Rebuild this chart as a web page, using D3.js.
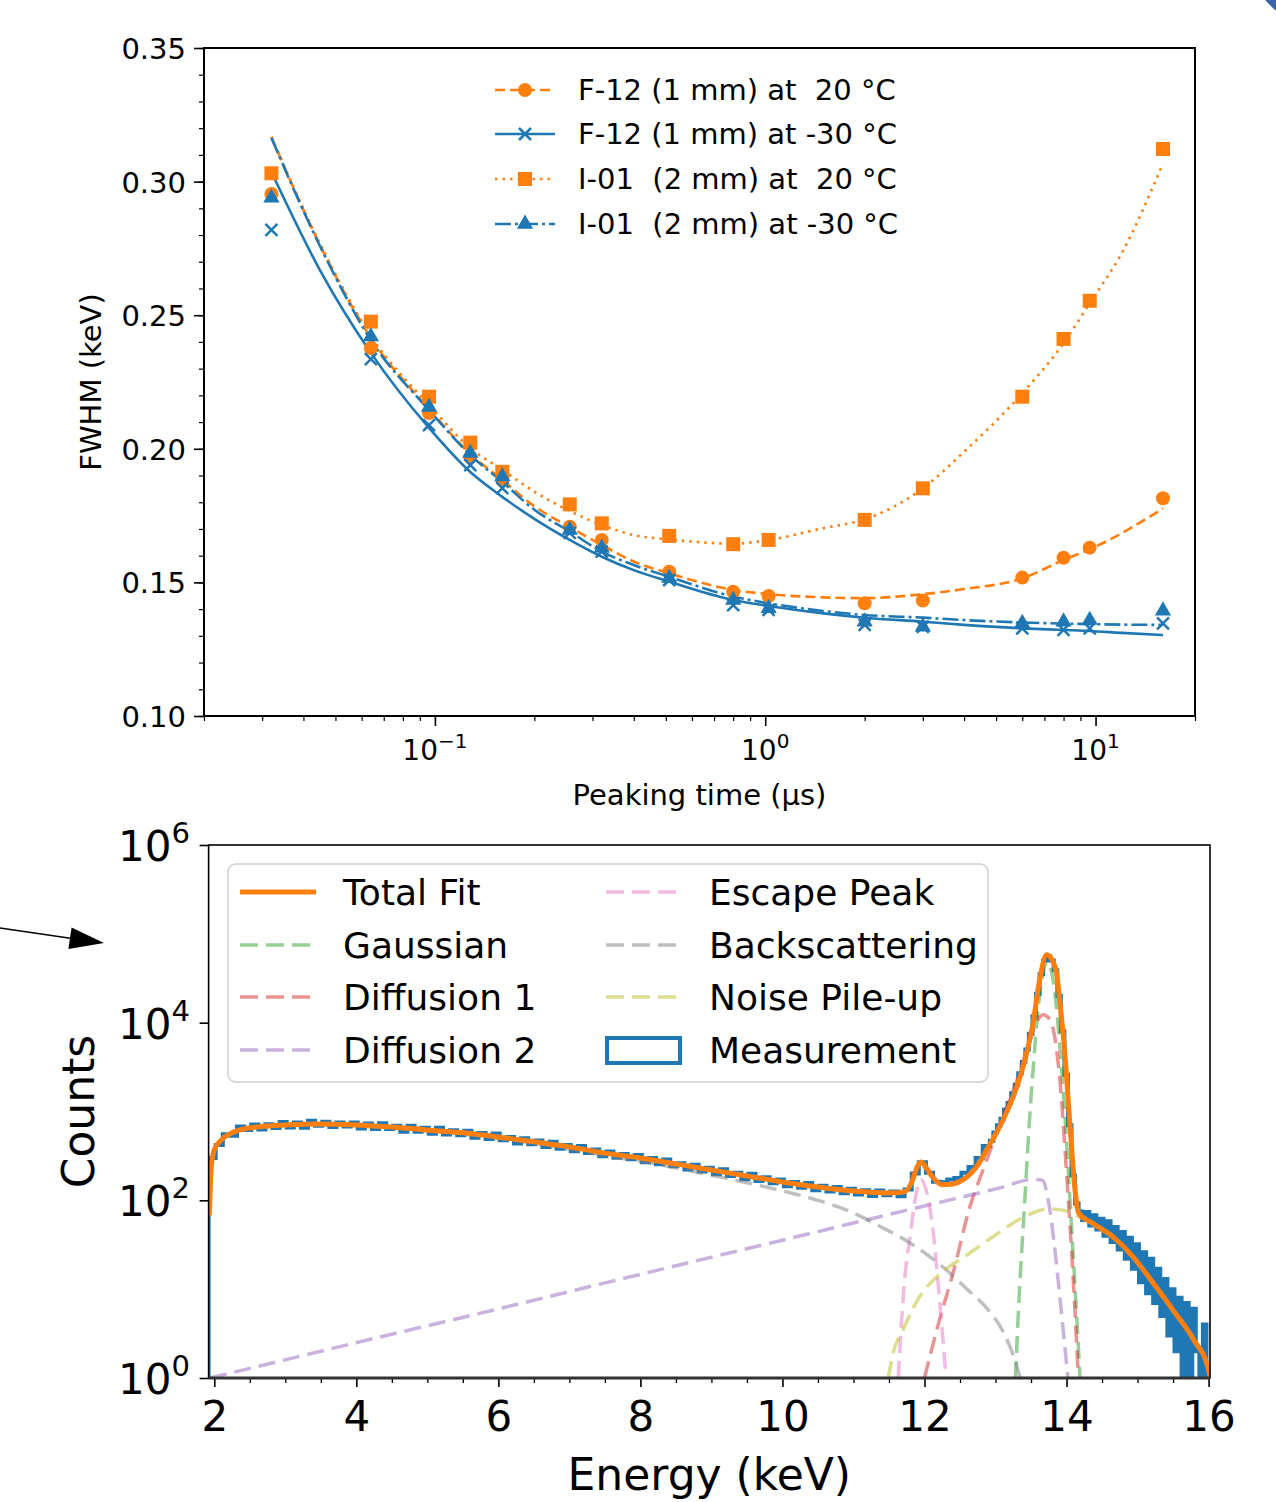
<!DOCTYPE html>
<html>
<head>
<meta charset="utf-8">
<script src="https://cdn.jsdelivr.net/npm/d3@7"></script>
<style>
body { margin:0; background:#fff; }
svg text { font-family: "DejaVu Sans", sans-serif; white-space: pre; fill:#000; }
</style>
</head>
<body>
<svg id="fig" width="1276" height="1502"></svg>
<script>

// ---------------- DATA : top panel (FWHM vs peaking time) ----------------
var peakingTimes = [0.032, 0.064, 0.096, 0.128, 0.16, 0.256, 0.32, 0.512, 0.8, 1.024, 2, 3, 6, 8, 9.6, 16];
var fwhmF12Warm = [0.2954, 0.2377, 0.2134, 0.1969, 0.1883, 0.1708, 0.1659, 0.1540, 0.1465, 0.1449, 0.1422, 0.1432, 0.1518, 0.1592, 0.1630, 0.1815];
var fwhmF12Cold = [0.2819, 0.2336, 0.2089, 0.1939, 0.1853, 0.1685, 0.1615, 0.1509, 0.1415, 0.1397, 0.1341, 0.1334, 0.1328, 0.1322, 0.1328, 0.1347];
var fwhmI01Warm = [0.3031, 0.2476, 0.2195, 0.2023, 0.1914, 0.1792, 0.1721, 0.1674, 0.1643, 0.1659, 0.1734, 0.1852, 0.2195, 0.2411, 0.2554, 0.3122];
var fwhmI01Cold = [0.2939, 0.2420, 0.2156, 0.1984, 0.1896, 0.1696, 0.1629, 0.1516, 0.1434, 0.1403, 0.1353, 0.1334, 0.1347, 0.1353, 0.1359, 0.1394];

// fit curves
var fitTimes   = [0.032, 0.045, 0.064, 0.096, 0.128, 0.16, 0.2, 0.256, 0.32, 0.4, 0.512, 0.8, 1.024, 1.5, 2, 3, 4, 6, 8, 9.6, 12, 16];
var fitF12Warm = [0.3167, 0.2760, 0.2415, 0.2149, 0.1981, 0.1883, 0.1785, 0.1707, 0.1640, 0.1578, 0.1534, 0.1472, 0.1456, 0.1444, 0.1441, 0.1456, 0.1475, 0.1515, 0.1584, 0.1624, 0.1684, 0.1777];
var fitF12Cold = [0.3036, 0.2666, 0.2359, 0.2078, 0.1913, 0.1820, 0.1738, 0.1659, 0.1596, 0.1546, 0.1503, 0.1434, 0.1412, 0.1384, 0.1368, 0.1353, 0.1341, 0.1328, 0.1322, 0.1318, 0.1311, 0.1303];
var fitI01Warm = [0.3167, 0.2765, 0.2422, 0.2164, 0.2003, 0.1921, 0.1840, 0.1767, 0.1715, 0.1677, 0.1661, 0.1645, 0.1659, 0.1703, 0.1736, 0.1852, 0.1989, 0.2208, 0.2395, 0.2545, 0.2732, 0.3068];
var fitI01Cold = [0.3163, 0.2756, 0.2407, 0.2145, 0.1977, 0.1876, 0.1772, 0.1690, 0.1615, 0.1565, 0.1521, 0.1447, 0.1422, 0.1393, 0.1378, 0.1368, 0.1359, 0.1350, 0.1346, 0.1344, 0.1342, 0.1341];

var topSeriesLabels = ["F-12 (1 mm) at  20 °C", "F-12 (1 mm) at -30 °C", "I-01  (2 mm) at  20 °C", "I-01  (2 mm) at -30 °C"];
var topYTicks = [0.10, 0.15, 0.20, 0.25, 0.30, 0.35];
var topXTicks = [0.1, 1, 10];
var topXTickExps = ["\u22121", "0", "1"];

// ---------------- DATA : bottom panel (spectrum) ----------------
var energyTicks = [2, 4, 6, 8, 10, 12, 14, 16];
var countTicks = [1, 1e2, 1e4, 1e6];
var countTickExps = ["0", "2", "4", "6"];

// measurement histogram: coarse bins below 12.92 keV, finer bins above
var measLowStart = 1.92, measLowWidth = 0.1;
var measCountsLow = [
	300, 420, 556, 534, 676, 618, 712, 626, 718, 651,
	761, 660, 751, 655, 787, 689, 769, 667, 751, 677,
	754, 644, 734, 637, 738, 637, 693, 592, 691, 592,
	657, 563, 657, 552, 614, 541, 608, 507, 572, 491,
	564, 475, 517, 437, 501, 429, 472, 399, 456, 382,
	420, 357, 410, 342, 373, 313, 355, 301, 332, 290,
	324, 268, 299, 255, 289, 242, 261, 223, 251, 211,
	233, 196, 224, 188, 204, 173, 199, 165, 182, 156,
	172, 144, 161, 139, 157, 130, 146, 126, 141, 120,
	135, 116, 130, 112, 129, 114, 126, 111, 132, 200,
	268, 205, 162, 160, 172, 178, 205, 238, 300, 410
];
var measHighStart = 12.92, measHighWidth = 0.05;
var measCountsHigh = [
	470, 580, 700, 830, 1050, 1250, 1600, 2000, 2700, 3600,
	5000, 7500, 11800, 21000, 35000, 50000, 56000, 50000, 39000, 20000,
	8000, 2600, 700, 190, 92, 75, 60, 74, 52, 68,
	47, 62, 40, 58, 34, 50, 28, 44, 22, 38,
	17, 32, 12, 26, 9, 22, 7, 17, 5, 13,
	3, 10, 2, 8, 0, 7, 1, 6, 2, 0,
	4, 0
];

var totalFitPts = [[1.93, 68], [1.96, 250], [2.0, 370], [2.1, 480], [2.25, 575], [2.5, 653], [3.0, 705], [3.5, 725], [4.0, 705],
	[4.5, 670], [5.0, 620], [5.5, 575], [6.0, 517], [6.5, 456], [7.0, 400], [7.5, 340], [8.0, 300], [8.5, 257], [9.0, 220],
	[9.5, 188], [10.0, 161], [10.5, 141], [11.0, 127], [11.5, 121], [11.72, 125], [11.82, 160], [11.9, 240], [11.95, 270],
	[12.02, 235], [12.12, 180], [12.25, 150], [12.4, 153], [12.55, 172], [12.75, 250], [12.9, 400], [13.06, 680], [13.2, 1180],
	[13.3, 1900], [13.42, 4000], [13.53, 10000], [13.62, 30000], [13.72, 58000], [13.8, 50000], [13.86, 36000], [13.91, 16000],
	[13.96, 6400], [14.05, 680], [14.12, 130], [14.17, 72], [14.37, 55], [14.65, 39], [14.94, 23], [15.22, 11.7], [15.5, 5.8],
	[15.79, 2.7], [16.0, 1.23], [16.02, 1.0]];
var gaussianPts = [[13.28, 1], [13.33, 7.6], [13.40, 69], [13.47, 620], [13.55, 4900], [13.63, 23400], [13.73, 48000],
	[13.83, 23400], [13.91, 4900], [13.99, 620], [14.06, 69], [14.13, 7.6], [14.19, 1]];
var diffusion1Pts = [[12.0, 1], [12.2, 4.2], [12.4, 15], [12.64, 85], [12.85, 250], [13.06, 705], [13.28, 2000], [13.44, 4900],
	[13.58, 10200], [13.67, 12300], [13.77, 10700], [13.91, 2100], [14.0, 204], [14.09, 15], [14.16, 1.3]];
var diffusion2Pts = [[1.94, 1], [4, 2.5], [6, 6.0], [8, 14.7], [10, 35.6], [12, 86.5], [13, 134], [13.55, 172], [13.66, 168],
	[13.75, 93], [13.82, 36], [13.92, 6.3], [14.02, 1]];
var escapePts = [[11.63, 1], [11.72, 12.7], [11.8, 41], [11.88, 115], [11.95, 170], [12.03, 124], [12.12, 46], [12.2, 9.8], [12.3, 1.08]];
var backscatterPts = [[1.93, 66], [1.96, 245], [2.0, 362], [2.1, 470], [2.25, 565], [2.5, 642], [3.0, 692], [3.5, 710], [4.0, 690],
	[4.5, 654], [5.0, 603], [5.5, 557], [6.0, 498], [6.5, 436], [7.0, 378], [7.5, 318], [8.0, 276], [8.5, 232], [9.0, 192],
	[9.5, 158], [10.0, 128], [10.5, 100], [10.95, 75], [11.35, 52], [11.8, 33], [12.25, 18], [12.6, 10], [12.9, 5.8],
	[13.1, 3.4], [13.25, 1.8], [13.35, 1.0]];
var pileupPts = [[11.49, 1], [11.55, 1.8], [11.7, 3.5], [11.9, 7.5], [12.2, 14.4], [12.6, 24.3], [13.0, 40.7], [13.4, 65],
	[13.75, 80], [14.0, 76], [14.22, 62]];

var botLegendLabels = ["Total Fit", "Gaussian", "Diffusion 1", "Diffusion 2", "Escape Peak", "Backscattering", "Noise Pile-up", "Measurement"];


var svg = d3.select("#fig");
var orange = "#ff7f0e", blue = "#1f77b4";

// corner decoration and arrow
svg.append("circle").attr("cx", 1330).attr("cy", -55).attr("r", 85).attr("fill", "#3866ae");
svg.append("line").attr("x1", 0).attr("y1", 928).attr("x2", 72).attr("y2", 938.5)
	.attr("stroke", "#000").attr("stroke-width", 1.5);
svg.append("path").attr("d", "M104,943 L68.4,949 L71.6,927.5 Z").attr("fill", "#000");


// ======================= TOP PANEL =======================
var tp = { left: 204, right: 1195, top: 48, bottom: 716 };
var xTop = d3.scaleLog().domain([0.02, 20]).range([tp.left, tp.right]);
var yTop = d3.scaleLinear().domain([0.10, 0.35]).range([tp.bottom, tp.top]);

function styleAxis(g, w) {
	g.select(".domain").remove();
	g.selectAll(".tick line").attr("stroke", "#000").attr("stroke-width", w);
}

// y ticks
var yMinor = d3.range(10, 36).map(function(d) { return d / 100; });
svg.append("g").attr("transform", "translate(" + tp.left + ",0)")
	.call(d3.axisLeft(yTop).tickValues(yMinor).tickSize(5).tickFormat(""))
	.call(styleAxis, 1.2);
var gyTop = svg.append("g").attr("transform", "translate(" + tp.left + ",0)")
	.call(d3.axisLeft(yTop).tickValues(topYTicks).tickSize(10).tickPadding(8).tickFormat(d3.format(".2f")))
	.call(styleAxis, 1.6);
gyTop.selectAll(".tick text").attr("font-size", 29).attr("font-family", "DejaVu Sans").attr("dy", "0.36em");

// x ticks (log)
var xMinor = [];
[0.01, 0.1, 1, 10].forEach(function(dec) {
	for (var k = 2; k <= 9; k++) {
		var v = k * dec;
		if (v >= 0.02 && v <= 20) xMinor.push(v);
	}
});
svg.append("g").attr("transform", "translate(0," + tp.bottom + ")")
	.call(d3.axisBottom(xTop).tickValues(xMinor).tickSize(5).tickFormat(""))
	.call(styleAxis, 1.2);
svg.append("g").attr("transform", "translate(0," + tp.bottom + ")")
	.call(d3.axisBottom(xTop).tickValues(topXTicks).tickSize(10).tickFormat(""))
	.call(styleAxis, 1.6);

topXTicks.forEach(function(v, i) {
	var t = svg.append("text").attr("x", xTop(v)).attr("y", 760).attr("text-anchor", "middle");
	t.append("tspan").text("10").attr("font-size", 28);
	t.append("tspan").text(topXTickExps[i]).attr("font-size", 20).attr("dy", -12);
});

// frame
svg.append("rect").attr("x", tp.left).attr("y", tp.top)
	.attr("width", tp.right - tp.left).attr("height", tp.bottom - tp.top)
	.attr("fill", "none").attr("stroke", "#000").attr("stroke-width", 2);

// axis titles
svg.append("text").attr("x", (tp.left + tp.right) / 2).attr("y", 805)
	.attr("text-anchor", "middle").attr("font-size", 29).text("Peaking time (\u03bcs)");
svg.append("text").attr("transform", "translate(101," + ((tp.top + tp.bottom) / 2) + ") rotate(-90)")
	.attr("text-anchor", "middle").attr("font-size", 29).text("FWHM (keV)");

// series definitions
var topSeries = [
	{ label: topSeriesLabels[0], vals: fwhmF12Warm, fit: fitF12Warm, color: orange, dash: "10,5", marker: "circle" },
	{ label: topSeriesLabels[1], vals: fwhmF12Cold, fit: fitF12Cold, color: blue, dash: null, marker: "x" },
	{ label: topSeriesLabels[2], vals: fwhmI01Warm, fit: fitI01Warm, color: orange, dash: "2.5,5", marker: "square" },
	{ label: topSeriesLabels[3], vals: fwhmI01Cold, fit: fitI01Cold, color: blue, dash: "16,4,3,4", marker: "triangle" }
];

function drawMarker(g, type, x, y, color) {
	if (type === "circle") {
		g.append("circle").attr("cx", x).attr("cy", y).attr("r", 7).attr("fill", color);
	} else if (type === "square") {
		g.append("rect").attr("x", x - 7).attr("y", y - 7).attr("width", 14).attr("height", 14).attr("fill", color);
	} else if (type === "triangle") {
		g.append("path").attr("d", d3.symbol(d3.symbolTriangle).size(115)())
			.attr("transform", "translate(" + x + "," + y + ")").attr("fill", color);
	} else {
		g.append("path").attr("d", "M-6,-6L6,6M-6,6L6,-6")
			.attr("transform", "translate(" + x + "," + y + ")")
			.attr("stroke", color).attr("stroke-width", 2.5).attr("fill", "none");
	}
}

var fitLine = d3.line()
	.x(function(d) { return xTop(d[0]); })
	.y(function(d) { return yTop(d[1]); })
	.curve(d3.curveMonotoneX);

var gTopPlot = svg.append("g");
topSeries.forEach(function(s) {
	gTopPlot.append("path")
		.datum(fitTimes.map(function(t, i) { return [t, s.fit[i]]; }))
		.attr("d", fitLine)
		.attr("fill", "none").attr("stroke", s.color).attr("stroke-width", 2.6)
		.attr("stroke-dasharray", s.dash);
});
topSeries.forEach(function(s) {
	peakingTimes.forEach(function(t, i) {
		drawMarker(gTopPlot, s.marker, xTop(t), yTop(s.vals[i]), s.color);
	});
});

// top legend
var legTopY = [90, 134, 179, 224];
topSeries.forEach(function(s, i) {
	var y = legTopY[i];
	svg.append("line").attr("x1", 495).attr("x2", 555).attr("y1", y).attr("y2", y)
		.attr("stroke", s.color).attr("stroke-width", 2.6).attr("stroke-dasharray", s.dash);
	drawMarker(svg, s.marker, 525, y, s.color);
	svg.append("text").attr("x", 578).attr("y", y + 10).attr("font-size", 29).text(s.label);
});


// ======================= BOTTOM PANEL =======================
var bp = { left: 208.6, right: 1210, top: 845, bottom: 1378 };
var xBot = d3.scaleLinear().domain([1.92, 16.02]).range([bp.left, bp.right]);
var yBot = d3.scaleLog().domain([1, 1e6]).range([bp.bottom, bp.top]).clamp(true);

svg.append("clipPath").attr("id", "botclip")
	.append("rect").attr("x", bp.left).attr("y", bp.top)
	.attr("width", bp.right - bp.left).attr("height", bp.bottom - bp.top);

var gBot = svg.append("g").attr("clip-path", "url(#botclip)");

// measurement histogram (step outline)
var measPts = [[measLowStart, 0.5]];
measCountsLow.forEach(function(c, i) {
	measPts.push([measLowStart + i * measLowWidth, Math.max(c, 0.5)]);
});
measCountsHigh.forEach(function(c, i) {
	measPts.push([measHighStart + i * measHighWidth, Math.max(c, 0.5)]);
});
measPts.push([measHighStart + measCountsHigh.length * measHighWidth, 0.5]);

gBot.append("path").datum(measPts)
	.attr("d", d3.line().x(function(d) { return xBot(d[0]); }).y(function(d) { return yBot(d[1]); }).curve(d3.curveStepAfter))
	.attr("fill", "none").attr("stroke", blue).attr("stroke-width", 4);

var specLine = d3.line()
	.x(function(d) { return xBot(d[0]); })
	.y(function(d) { return yBot(d[1]); })
	.curve(d3.curveMonotoneX);

var components = [
	{ pts: gaussianPts, color: "#2ca02c" },
	{ pts: diffusion1Pts, color: "#d62728" },
	{ pts: diffusion2Pts, color: "#9467bd" },
	{ pts: escapePts, color: "#e377c2" },
	{ pts: backscatterPts, color: "#7f7f7f" },
	{ pts: pileupPts, color: "#bcbd22" }
];
components.forEach(function(c) {
	gBot.append("path").datum(c.pts).attr("d", specLine)
		.attr("fill", "none").attr("stroke", c.color).attr("stroke-opacity", 0.5)
		.attr("stroke-width", 3.5).attr("stroke-dasharray", "17,8");
});
gBot.append("path").datum(totalFitPts).attr("d", specLine)
	.attr("fill", "none").attr("stroke", orange).attr("stroke-width", 5).attr("stroke-linejoin", "round");

// axes
var eMinor = d3.range(2.5, 16, 0.5).filter(function(v) { return v % 2 !== 0; });
svg.append("g").attr("transform", "translate(0," + bp.bottom + ")")
	.call(d3.axisBottom(xBot).tickValues(eMinor).tickSize(5).tickFormat(""))
	.call(styleAxis, 1.3);
var gxBot = svg.append("g").attr("transform", "translate(0," + bp.bottom + ")")
	.call(d3.axisBottom(xBot).tickValues(energyTicks).tickSize(9).tickPadding(14).tickFormat(d3.format("d")))
	.call(styleAxis, 1.6);
gxBot.selectAll(".tick text").attr("font-size", 42).attr("font-family", "DejaVu Sans").attr("dy", "0.71em");

svg.append("g").attr("transform", "translate(" + bp.left + ",0)")
	.call(d3.axisLeft(yBot).tickValues(countTicks).tickSize(9).tickFormat(""))
	.call(styleAxis, 1.6);
countTicks.forEach(function(v, i) {
	var t = svg.append("text").attr("x", 190).attr("y", yBot(v) + 16).attr("text-anchor", "end");
	t.append("tspan").text("10").attr("font-size", 42);
	t.append("tspan").text(countTickExps[i]).attr("font-size", 29).attr("dy", -18);
});

svg.append("rect").attr("x", bp.left).attr("y", bp.top)
	.attr("width", bp.right - bp.left).attr("height", bp.bottom - bp.top)
	.attr("fill", "none").attr("stroke", "#000").attr("stroke-width", 1.6);
svg.append("line").attr("x1", bp.left).attr("x2", bp.right).attr("y1", bp.bottom).attr("y2", bp.bottom)
	.attr("stroke", "#333").attr("stroke-width", 3);

svg.append("text").attr("x", (bp.left + bp.right) / 2).attr("y", 1490)
	.attr("text-anchor", "middle").attr("font-size", 44).text("Energy (keV)");
svg.append("text").attr("transform", "translate(94," + ((bp.top + bp.bottom) / 2) + ") rotate(-90)")
	.attr("text-anchor", "middle").attr("font-size", 44).text("Counts");

// bottom legend
svg.append("rect").attr("x", 228).attr("y", 864).attr("width", 760).attr("height", 218).attr("rx", 8)
	.attr("fill", "#fff").attr("fill-opacity", 0.85).attr("stroke", "#d0d0d0").attr("stroke-width", 1.5);

var legRowsY = [892, 945, 997, 1050];
var legStyles = [
	{ color: orange, dash: null, op: 1, w: 5 },
	{ color: "#2ca02c", dash: "18,8", op: 0.5, w: 3.5 },
	{ color: "#d62728", dash: "18,8", op: 0.5, w: 3.5 },
	{ color: "#9467bd", dash: "18,8", op: 0.5, w: 3.5 },
	{ color: "#e377c2", dash: "18,8", op: 0.5, w: 3.5 },
	{ color: "#7f7f7f", dash: "18,8", op: 0.5, w: 3.5 },
	{ color: "#bcbd22", dash: "18,8", op: 0.5, w: 3.5 },
	null
];
botLegendLabels.forEach(function(lab, i) {
	var col = Math.floor(i / 4), row = i % 4;
	var y = legRowsY[row];
	var x0 = col === 0 ? 240 : 606;
	var tx = col === 0 ? 343 : 709;
	var st = legStyles[i];
	if (st) {
		svg.append("line").attr("x1", x0).attr("x2", x0 + 76).attr("y1", y).attr("y2", y)
			.attr("stroke", st.color).attr("stroke-opacity", st.op).attr("stroke-width", st.w)
			.attr("stroke-dasharray", st.dash);
	} else {
		svg.append("rect").attr("x", x0 + 1).attr("y", y - 12).attr("width", 73).attr("height", 25)
			.attr("fill", "none").attr("stroke", blue).attr("stroke-width", 4);
	}
	svg.append("text").attr("x", tx).attr("y", y + 13).attr("font-size", 36).text(lab);
});

</script>
</body>
</html>
